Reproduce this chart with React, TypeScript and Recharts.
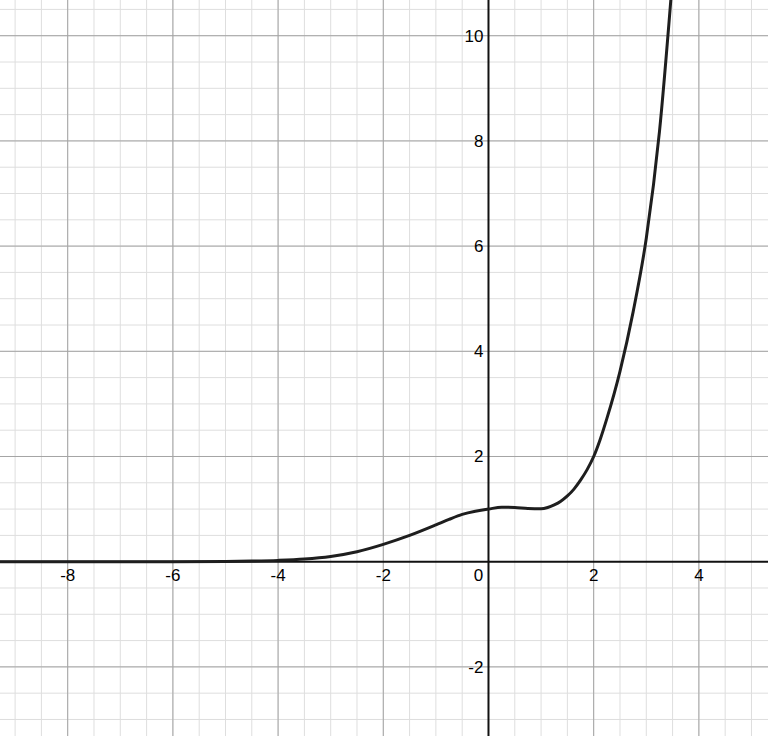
import React from 'react';
import { LineChart, Line, XAxis, YAxis, ReferenceLine, ReferenceDot } from 'recharts';

const xDomain: [number, number] = [-9.287, 5.314];
const yDomain: [number, number] = [-3.314, 10.679];

const curveX = [-9.5, -8, -7, -6, -5, -4.5, -4, -3.5, -3, -2.5, -2, -1.5, -1, -0.75, -0.5, -0.25, 0, 0.25, 0.5, 0.75, 1, 1.125, 1.25, 1.375, 1.5, 1.625, 1.75, 1.875, 2, 2.125, 2.25, 2.5, 2.75, 3, 3.25, 3.5];
const curveY = [0, 0, 0, 0.001, 0.006, 0.012, 0.025, 0.05, 0.1, 0.19, 0.33, 0.5, 0.7, 0.805, 0.9, 0.96, 1.0, 1.035, 1.03, 1.01, 1.005, 1.03, 1.08, 1.15, 1.25, 1.38, 1.55, 1.75, 2.0, 2.33, 2.72, 3.62, 4.75, 6.15, 8.17, 11.1];

const minorX = [-9, -8.5, -8, -7.5, -7, -6.5, -6, -5.5, -5, -4.5, -4, -3.5, -3, -2.5, -2, -1.5, -1, -0.5, 0.5, 1, 1.5, 2, 2.5, 3, 3.5, 4, 4.5, 5];
const minorY = [-3, -2.5, -2, -1.5, -1, -0.5, 0.5, 1, 1.5, 2, 2.5, 3, 3.5, 4, 4.5, 5, 5.5, 6, 6.5, 7, 7.5, 8, 8.5, 9, 9.5, 10, 10.5];
const majorX = [-8, -6, -4, -2, 2, 4];
const majorY = [-2, 2, 4, 6, 8, 10];

const xTickLabels = ['-8', '-6', '-4', '-2', '0', '2', '4'];
const xTickValues = [-8, -6, -4, -2, 0, 2, 4];
const yTickLabels = ['10', '8', '6', '4', '2', '-2'];
const yTickValues = [10, 8, 6, 4, 2, -2];

const data = curveX.map((x, i) => ({ x, y: curveY[i] }));

const FONT = 'Arial, "Liberation Sans", sans-serif';

const XLabel = (label: string, value: number) => (props: any) => {
  const dx = value === 0 ? -10 : 0;
  return (
    <text x={props.cx + dx} y={props.cy + 19} textAnchor="middle" fontSize={17} fontFamily={FONT} fill="#000">
      {label}
    </text>
  );
};

const YLabel = (label: string) => (props: any) => (
  <text x={props.cx - 5} y={props.cy + 6} textAnchor="end" fontSize={17} fontFamily={FONT} fill="#000">
    {label}
  </text>
);

export default function App() {
  return (
    <div style={{ position: 'absolute', left: 0, top: 0, width: 768, height: 736, background: '#fff' }}>
      <LineChart width={768} height={736} data={data} margin={{ top: 0, right: 0, bottom: 0, left: 0 }}>
        <XAxis type="number" dataKey="x" domain={xDomain} allowDataOverflow hide />
        <YAxis type="number" domain={yDomain} allowDataOverflow hide />
        {minorX.map((v) => (
          <ReferenceLine key={'mx' + v} x={v} stroke="#dedede" strokeWidth={1} />
        ))}
        {minorY.map((v) => (
          <ReferenceLine key={'my' + v} y={v} stroke="#dedede" strokeWidth={1} />
        ))}
        {majorX.map((v) => (
          <ReferenceLine key={'Mx' + v} x={v} stroke="#a4a4a4" strokeWidth={1} />
        ))}
        {majorY.map((v) => (
          <ReferenceLine key={'My' + v} y={v} stroke="#a4a4a4" strokeWidth={1} />
        ))}
        <ReferenceLine x={0} stroke="#111" strokeWidth={2} />
        <ReferenceLine y={0} stroke="#111" strokeWidth={2} />
        {xTickValues.map((v, i) => (
          <ReferenceDot key={'xl' + v} x={v} y={0} r={1} shape={XLabel(xTickLabels[i], v)} />
        ))}
        {yTickValues.map((v, i) => (
          <ReferenceDot key={'yl' + v} x={0} y={v} r={1} shape={YLabel(yTickLabels[i])} />
        ))}
        <Line type="monotone" dataKey="y" stroke="#1e1e1e" strokeWidth={3} dot={false} isAnimationActive={false} />
      </LineChart>
    </div>
  );
}
